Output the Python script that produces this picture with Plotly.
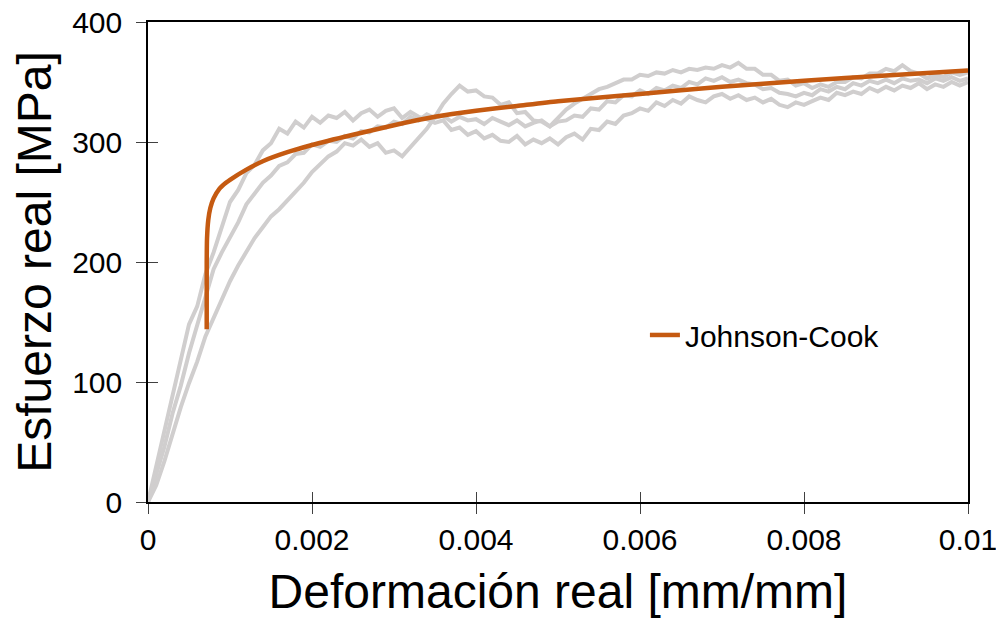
import plotly.graph_objects as go

# Strain sampling of the experimental curves [mm/mm]
strain = [
    0.0000, 0.0001, 0.0002, 0.0003, 0.0004, 0.0005, 0.0006, 0.0007, 0.0008, 0.0009,
    0.0010, 0.0011, 0.0012, 0.0013, 0.0014, 0.0015, 0.0016, 0.0017, 0.0018, 0.0019,
    0.0020, 0.0021, 0.0022, 0.0023, 0.0024, 0.0025, 0.0026, 0.0027, 0.0028, 0.0029,
    0.0030, 0.0031, 0.0032, 0.0033, 0.0034, 0.0035, 0.0036, 0.0037, 0.0038, 0.0039,
    0.0040, 0.0041, 0.0042, 0.0043, 0.0044, 0.0045, 0.0046, 0.0047, 0.0048, 0.0049,
    0.0050, 0.0051, 0.0052, 0.0053, 0.0054, 0.0055, 0.0056, 0.0057, 0.0058, 0.0059,
    0.0060, 0.0061, 0.0062, 0.0063, 0.0064, 0.0065, 0.0066, 0.0067, 0.0068, 0.0069,
    0.0070, 0.0071, 0.0072, 0.0073, 0.0074, 0.0075, 0.0076, 0.0077, 0.0078, 0.0079,
    0.0080, 0.0081, 0.0082, 0.0083, 0.0084, 0.0085, 0.0086, 0.0087, 0.0088, 0.0089,
    0.0090, 0.0091, 0.0092, 0.0093, 0.0094, 0.0095, 0.0096, 0.0097, 0.0098, 0.0099,
    0.0100,
]

# Experimental true stress curves [MPa] (three specimens)
stress_exp1 = [
    0, 30, 58, 90, 117, 148, 163, 190, 208, 230,
    250, 260, 274, 281, 293, 299, 311, 307, 317, 312,
    321, 316, 322, 320, 325, 318, 324, 327, 321, 326,
    328, 320, 325, 321, 319, 316, 318, 310, 312, 306,
    309, 303, 306, 301, 300, 305, 298, 302, 299, 303,
    298, 304, 307, 302, 311, 310, 317, 315, 322, 324,
    328, 326, 333, 330, 335, 332, 338, 335, 333, 338,
    340, 336, 339, 335, 337, 333, 336, 331, 329, 333,
    331, 334, 337, 335, 341, 339, 342, 340, 345, 342,
    346, 343, 347, 345, 349, 344, 348, 346, 350, 347,
    350,
]
stress_exp2 = [
    0, 22, 46, 74, 97, 124, 147, 172, 194, 208,
    220, 233, 248, 257, 266, 272, 280, 283, 290, 291,
    298, 296, 301, 300, 305, 303, 309, 308, 313, 312,
    317, 315, 321, 318, 323, 320, 322, 317, 321, 318,
    319, 315, 320, 317, 314, 318, 313, 316, 318, 313,
    317, 318, 322, 321, 328, 327, 334, 333, 339, 338,
    343, 340, 345, 343, 347, 345, 350, 348, 353, 351,
    354, 350, 352, 349, 348, 344, 345, 341, 340, 338,
    341, 339, 344, 342, 346, 344, 349, 347, 351, 349,
    352, 349, 353, 351, 352, 349, 353, 351, 354, 351,
    353,
]
stress_exp3 = [
    0, 14, 34, 57, 79, 99, 117, 138, 154, 170,
    184, 197, 209, 220, 229, 238, 244, 251, 258, 266,
    275, 281, 288, 292, 299, 297, 302, 296, 299, 291,
    293, 288, 296, 303, 311, 321, 332, 340, 347, 342,
    343, 338, 337, 331, 333, 324, 325, 318, 317, 313,
    320, 327, 332, 336, 340, 344, 346, 349, 352, 352,
    356, 355, 358, 357, 360, 358, 361, 360, 362, 361,
    364, 362, 366, 361, 361, 356, 356, 351, 352, 347,
    349, 345, 348, 346, 350, 350, 354, 353, 357, 357,
    361, 359, 364, 359, 357, 353, 356, 354, 358, 356,
    358,
]

# Johnson-Cook model curve
jc_strain = [0.000716, 0.000716, 0.00072, 0.000735, 0.00076, 0.0008, 0.00087, 0.00095,
             0.0010, 0.0012, 0.0014, 0.0017, 0.0020, 0.0025, 0.0030, 0.0035, 0.0040,
             0.0045, 0.0050, 0.0060, 0.0070, 0.0080, 0.0090, 0.0100]
jc_stress = [144, 200, 220, 235, 245, 253, 261, 266,
             268.5, 277, 284, 291.5, 297.5, 306, 314, 321, 326,
             330, 334, 340, 346, 351, 355.5, 359.5]

x_ticks = [0, 0.002, 0.004, 0.006, 0.008, 0.01]
x_ticktext = ["0", "0.002", "0.004", "0.006", "0.008", "0.01"]
y_ticks = [0, 100, 200, 300, 400]

GREY = "#D0CECE"
ORANGE = "#C55A11"
FONT = "Arial, Liberation Sans, sans-serif"

fig = go.Figure()
for s in (stress_exp1, stress_exp2, stress_exp3):
    fig.add_trace(go.Scatter(x=strain, y=s, mode="lines",
                             line=dict(color=GREY, width=4),
                             showlegend=False, hoverinfo="skip"))

fig.add_trace(go.Scatter(x=jc_strain, y=jc_stress, mode="lines", name="Johnson-Cook",
                         line=dict(color=ORANGE, width=4.5, shape="spline", smoothing=0.6),
                         xaxis="x2", yaxis="y2"))

axis_common = dict(showgrid=False, zeroline=False, automargin=False)

# the page body adds an 8px offset, so the figure is sized 8px smaller on each dimension
fig.update_layout(
    width=996, height=616,
    margin=dict(l=140, r=36, t=14, b=122),
    paper_bgcolor="white", plot_bgcolor="white",
    font=dict(family=FONT, color="black"),
    xaxis=dict(range=[0, 0.01], tickvals=x_ticks, ticktext=x_ticktext,
               ticks="outside", ticklen=10, tickwidth=1.3, tickcolor="#404040",
               showline=True, linecolor="black", linewidth=1.5, mirror=True,
               tickfont=dict(size=30, family=FONT, color="black"),
               ticklabelstandoff=0, ticklabeloverflow="allow",
               title=dict(text="Deformación real [mm/mm]", font=dict(size=48, family=FONT, color="black"),
                          standoff=20),
               **axis_common),
    yaxis=dict(range=[0, 400], tickvals=y_ticks,
               ticks="outside", ticklen=10, tickwidth=1.3, tickcolor="#404040",
               showline=True, linecolor="black", linewidth=1.5, mirror=True,
               tickfont=dict(size=30, family=FONT, color="black"),
               ticklabelstandoff=8, ticklabeloverflow="allow",
               title=dict(text="Esfuerzo real [MPa]", font=dict(size=48, family=FONT, color="black"),
                          standoff=8),
               **axis_common),
    xaxis2=dict(range=[0, 0.01], tickvals=x_ticks, overlaying="x", anchor="y2", side="bottom",
                ticks="inside", ticklen=10, tickwidth=1.3, tickcolor="#404040",
                showticklabels=False, showline=False, **axis_common),
    yaxis2=dict(range=[0, 400], tickvals=y_ticks, overlaying="y", anchor="x2", side="left",
                ticks="inside", ticklen=10, tickwidth=1.3, tickcolor="#404040",
                showticklabels=False, showline=False, **axis_common),
    legend=dict(x=0.606, y=0.348, xanchor="left", yanchor="middle",
                bgcolor="rgba(0,0,0,0)", borderwidth=0,
                font=dict(size=30, family=FONT, color="black")),
    showlegend=True,
)

fig.write_html("out.html")
